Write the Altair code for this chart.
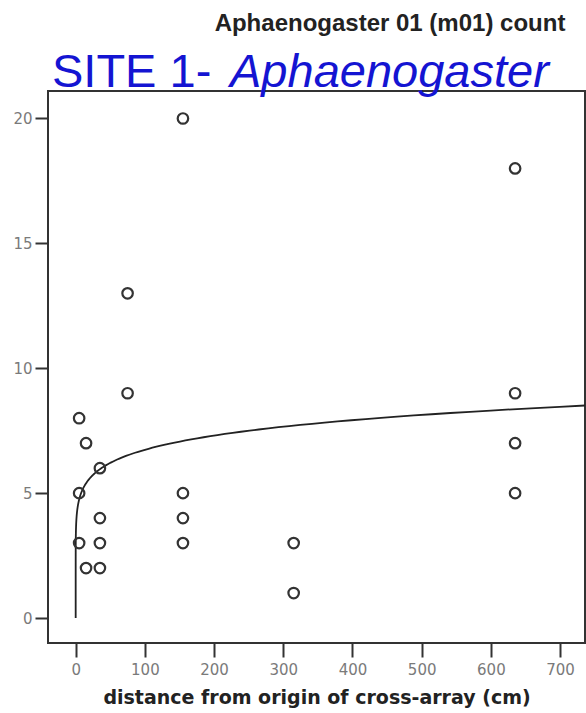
import altair as alt
import numpy as np
import pandas as pd

# Observed counts per trap, by distance from the origin of the cross-array
distance_cm = [5, 5, 5, 15, 15, 35, 35, 35, 35, 75, 75,
               155, 155, 155, 155, 315, 315, 635, 635, 635, 635]
ant_count = [8, 5, 3, 7, 2, 6, 4, 3, 2, 13, 9,
             20, 5, 4, 3, 3, 1, 18, 9, 7, 5]

x_ticks = [0, 100, 200, 300, 400, 500, 600, 700]
y_ticks = [0, 5, 10, 15, 20]

# Power-curve fit: count = FIT_A * distance ** FIT_B
FIT_A = 3.93
FIT_B = 0.117

x_domain = [-40, 736]
y_domain = [-1, 21.1]

points = pd.DataFrame({"distance": distance_cm, "count": ant_count})
curve_x = np.concatenate([[0.0], np.geomspace(1e-6, x_domain[1], 400)])
curve = pd.DataFrame({"distance": curve_x, "count": FIT_A * curve_x ** FIT_B})

x_enc = alt.X(
    "distance:Q",
    scale=alt.Scale(domain=x_domain, nice=False, zero=False),
    axis=alt.Axis(values=x_ticks, title=None, grid=False, domain=False,
                  tickSize=14, tickWidth=2, tickColor="#333333",
                  labelPadding=5, labelFont="DejaVu Sans", labelFontSize=15,
                  labelColor="#7a7a7a"),
)
y_enc = alt.Y(
    "count:Q",
    scale=alt.Scale(domain=y_domain, nice=False, zero=False),
    axis=alt.Axis(values=y_ticks, title=None, grid=False, domain=False,
                  tickSize=13, tickWidth=2, tickColor="#333333",
                  labelPadding=3, labelFont="DejaVu Sans", labelFontSize=15,
                  labelColor="#7a7a7a"),
)

fit_line = alt.Chart(curve).mark_line(
    color="#222222", strokeWidth=1.8, clip=True
).encode(x=x_enc, y=y_enc)

dots = alt.Chart(points).mark_point(
    shape="circle", filled=False, size=110, strokeWidth=2.2,
    color="#333333", opacity=1
).encode(x="distance:Q", y="count:Q")

blank = alt.Data(values=[{}])

header = alt.Chart(blank).mark_text(
    font="Liberation Sans", fontWeight="bold", fontSize=24,
    color="#222222", align="center", baseline="alphabetic"
).encode(x=alt.value(342), y=alt.value(-60),
         text=alt.value("Aphaenogaster 01 (m01) count"))

site = alt.Chart(blank).mark_text(
    font="Liberation Sans", fontSize=47, color="#1414d2",
    align="left", baseline="alphabetic"
).encode(x=alt.value(4), y=alt.value(-4), text=alt.value("SITE 1- "))

genus = alt.Chart(blank).mark_text(
    font="Liberation Sans", fontSize=47, fontStyle="italic",
    color="#1414d2", align="left", baseline="alphabetic"
).encode(x=alt.value(182), y=alt.value(-4), text=alt.value("Aphaenogaster"))

x_title = alt.Chart(blank).mark_text(
    font="DejaVu Sans", fontWeight="bold", fontSize=19,
    color="#222222", align="center", baseline="alphabetic"
).encode(x=alt.value(269), y=alt.value(613),
         text=alt.value("distance from origin of cross-array (cm)"))

chart = alt.layer(fit_line, dots, header, site, genus, x_title).properties(
    width=537,
    height=552,
    autosize=alt.AutoSizeParams(type="none"),
    padding={"left": 48, "top": 91, "right": 1, "bottom": 70},
    background="white",
).configure_view(stroke="#333333", strokeWidth=2)

chart.save("out.html", embed_options={"renderer": "svg", "actions": False})
